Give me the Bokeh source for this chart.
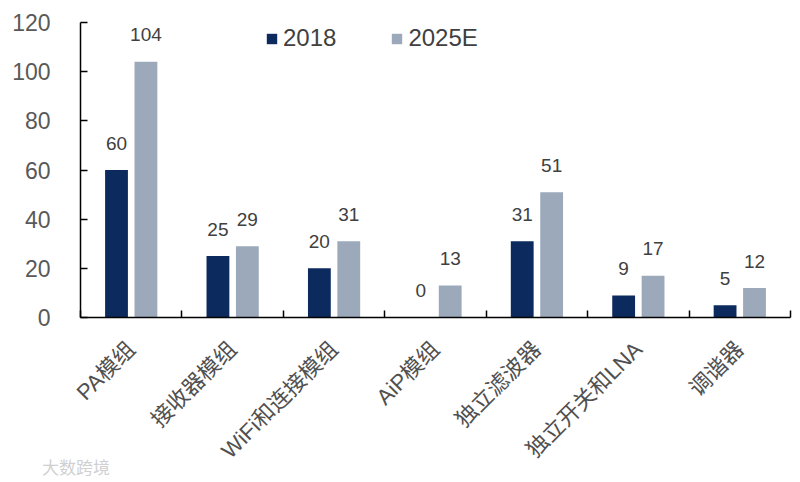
import numpy as np
from bokeh.plotting import figure
from bokeh.layouts import column
from bokeh.models import (ColumnDataSource, FixedTicker, Legend, LegendItem, Div, Range1d)
from bokeh.core.properties import value
from bokeh.embed import file_html
from bokeh.resources import INLINE

categories = ["PA模组", "接收器模组", "WiFi和连接模组", "AiP模组", "独立滤波器", "独立开关和LNA", "调谐器"]
series_names = ["2018", "2025E"]
values_2018 = [60, 25, 20, 0, 31, 9, 5]
values_2025 = [104, 29, 31, 13, 51, 17, 12]
y_ticks = [0, 20, 40, 60, 80, 100, 120]

DARK = "#0c2a5d"
LIGHT = "#9ba9bb"
TXT = "#404040"
LATIN = "'Liberation Sans', Arial, 'Noto Sans CJK SC'"
CJK = "'Liberation Sans', 'Noto Sans CJK SC'"

n = len(categories)
centers = np.arange(n) + 0.5
off = 0.145
bw = 0.225

p = figure(width=792, height=482, output_backend="svg", toolbar_location=None,
           x_range=Range1d(0, n), y_range=Range1d(0, 120),
           min_border_left=80, min_border_right=2, min_border_top=22, min_border_bottom=165)
p.outline_line_color = None
p.grid.grid_line_color = None
p.background_fill_color = "white"

src1 = ColumnDataSource(dict(x=centers - off, top=values_2018, lab=[str(v) for v in values_2018]))
src2 = ColumnDataSource(dict(x=centers + off, top=values_2025, lab=[str(v) for v in values_2025]))

r1 = p.vbar(x="x", top="top", width=bw, source=src1, fill_color=DARK, line_color=None)
r2 = p.vbar(x="x", top="top", width=bw, source=src2, fill_color=LIGHT, line_color=None)

for s in (src1, src2):
    p.text(x="x", y="top", text="lab", source=s, text_align="center", text_baseline="alphabetic",
           y_offset=-27, text_font_size="19px", text_color=TXT, text_font=value(LATIN))

# x axis: boundary ticks (minor), rotated category labels at the centres
label_pos = [float(c) for c in centers]
xa = p.xaxis[0]
xa.ticker = FixedTicker(ticks=label_pos, minor_ticks=list(range(n + 1)))
xa.major_label_overrides = {pos: lab for pos, lab in zip(label_pos, categories)}
xa.major_tick_line_color = None
xa.major_tick_in = 0
xa.major_tick_out = 0
xa.minor_tick_in = 7
xa.minor_tick_out = 0
xa.minor_tick_line_color = "black"
xa.minor_tick_line_width = 1.5
xa.axis_line_color = "black"
xa.axis_line_width = 1.5
xa.major_label_orientation = np.pi / 4
xa.major_label_text_font_size = "22px"
xa.major_label_text_color = "#505050"
xa.major_label_text_font = CJK
xa.major_label_standoff = 28

# y axis
ya = p.yaxis[0]
ya.ticker = FixedTicker(ticks=y_ticks, minor_ticks=[])
ya.major_tick_in = 7
ya.major_tick_out = 0
ya.major_tick_line_color = "black"
ya.major_tick_line_width = 1.5
ya.axis_line_color = "black"
ya.axis_line_width = 1.5
ya.major_label_text_font_size = "23px"
ya.major_label_text_color = "#595959"
ya.major_label_text_font = LATIN
ya.major_label_standoff = 30

legend = Legend(items=[LegendItem(label=series_names[0], renderers=[r1]),
                       LegendItem(label=series_names[1], renderers=[r2])],
                orientation="horizontal", location=(185, 265))
legend.border_line_color = None
legend.background_fill_alpha = 0
legend.padding = 0
legend.margin = 0
legend.spacing = 54
legend.label_standoff = 5
legend.glyph_width = 13
legend.glyph_height = 13
legend.label_text_font_size = "24px"
legend.label_text_color = TXT
legend.label_text_font = LATIN
p.add_layout(legend, "center")

wm = Div(text="大数跨境", width=80, height=22,
         styles={"position": "absolute", "left": "37px", "top": "450px",
                 "font-family": "'Noto Sans CJK SC'", "font-size": "17px",
                 "color": "#d0d0d0", "z-index": "10"})

layout = column(p, wm)
open("out.html", "w").write(file_html(layout, INLINE))
